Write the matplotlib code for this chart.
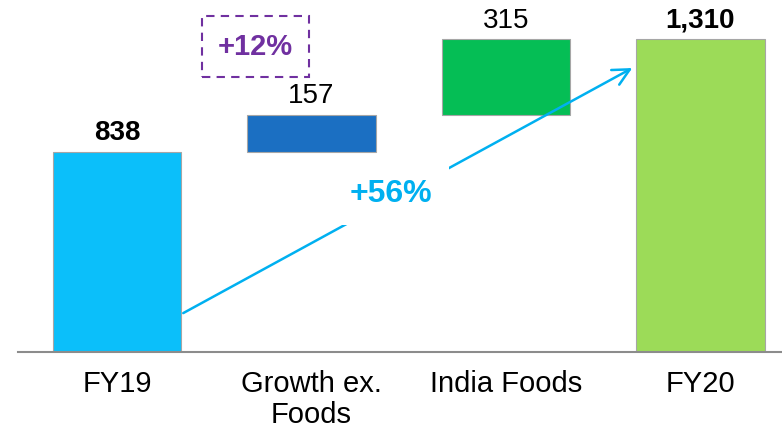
import matplotlib
matplotlib.use("Agg")
import matplotlib.pyplot as plt

plt.rcParams['font.family'] = ['Liberation Sans', 'DejaVu Sans']

categories = ["FY19", "Growth ex.\nFoods", "India Foods", "FY20"]
values = [838, 157, 315, 1310]
labels = ["838", "157", "315", "1,310"]
bold = [True, False, False, True]
colors = ["#0BBFFA", "#1B6FC2", "#05BE55", "#9CDB58"]
growth_total = "+56%"
growth_ex = "+12%"

# waterfall bottoms: totals start at zero, steps stack on running sum
bottoms = [0, values[0], values[0] + values[1], 0]

fig = plt.figure(figsize=(7.82, 4.30), dpi=100)
ax = fig.add_axes([18 / 782, 78 / 430, 1 - 18 / 782, 352 / 430])

x = list(range(len(categories)))
bars = ax.bar(x, values, bottom=bottoms, width=0.66, color=colors,
              edgecolor="#A6A6A6", linewidth=0.8, zorder=2)

for b, lab, bd in zip(bars, labels, bold):
    ax.annotate(lab, (b.get_x() + b.get_width() / 2, b.get_y() + b.get_height()),
                xytext=(0, 4), textcoords="offset points", ha="center", va="bottom",
                fontsize=20, fontweight="bold" if bd else "normal", color="black")

ax.set_xlim(-0.51, 3.42)
ax.set_ylim(0, 1475)

# overall growth arrow, FY19 -> FY20
ax.annotate("", xy=(2.65, 1190), xytext=(0.34, 163),
            arrowprops=dict(arrowstyle="->", color="#00B0F0", lw=1.8,
                            mutation_scale=30, shrinkA=0, shrinkB=0), zorder=3)
ax.text(1.41, 660, growth_total, ha="center", va="center", fontsize=23,
        fontweight="bold", color="#00B0F0", zorder=4,
        bbox=dict(boxstyle="square,pad=0.5", fc="white", ec="none"))

ax.text(0.71, 1280, growth_ex, ha="center", va="center", fontsize=21,
        fontweight="bold", color="#7030A0", zorder=4,
        bbox=dict(boxstyle="square,pad=0.55", fc="white", ec="#7030A0",
                  lw=1.5, ls=(0, (4, 3))))

ax.set_xticks(x)
ax.set_xticklabels(categories, fontsize=21, linespacing=1.15)
ax.tick_params(axis="x", length=0, pad=13)
ax.set_yticks([])
for s in ["top", "right", "left"]:
    ax.spines[s].set_visible(False)
ax.spines["bottom"].set_color("#8C8C8C")
ax.spines["bottom"].set_linewidth(1.5)

fig.savefig("out.png", dpi=100)
